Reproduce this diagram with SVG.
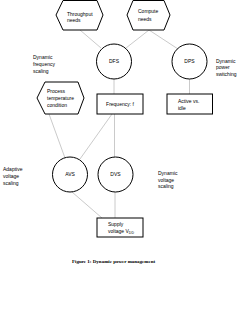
<svg xmlns="http://www.w3.org/2000/svg" width="250" height="324" viewBox="0 0 250 324">
<style>
.s{fill:#fff;stroke:#000;stroke-width:1}
.t{font-family:"Liberation Sans",Arial,sans-serif;font-size:5px;fill:#000}
.m{text-anchor:middle}
.c{stroke:#bdbdbd;stroke-width:0.8;fill:none}
.cap{font-family:"Liberation Serif","Times New Roman",serif;font-size:5px;font-weight:bold;fill:#000}
</style>
<rect width="250" height="324" fill="#fff"/>
<g id="connectors">
<line class="c" x1="80" y1="30" x2="101" y2="48"/>
<line class="c" x1="149" y1="30" x2="126" y2="48"/>
<line class="c" x1="149" y1="30" x2="178" y2="49"/>
<line class="c" x1="114" y1="79" x2="114" y2="94"/>
<line class="c" x1="189.5" y1="79" x2="189.5" y2="94"/>
<line class="c" x1="49" y1="114" x2="65" y2="158"/>
<line class="c" x1="112" y1="114" x2="80" y2="159"/>
<line class="c" x1="114.5" y1="114" x2="114.5" y2="157"/>
<line class="c" x1="72" y1="192" x2="102" y2="218"/>
<line class="c" x1="115" y1="192" x2="115" y2="218"/>
</g>
<g id="throughput">
<polygon class="s" points="56,15 63,0.5 97,0.5 103,15 97,30 63,30"/>
<text class="t" x="67" y="15.5">Throughput</text>
<text class="t" x="67" y="22">needs</text>
</g>
<g id="compute">
<polygon class="s" points="127,15 133,0.5 164,0.5 170,15 164,30 133,30"/>
<text class="t" x="138" y="13">Compute</text>
<text class="t" x="138" y="20.5">needs</text>
</g>
<g id="dfs">
<circle class="s" cx="114" cy="61.5" r="17.5"/>
<text class="t m" x="114" y="63.2">DFS</text>
</g>
<g id="dps">
<circle class="s" cx="189.5" cy="61.5" r="17.5"/>
<text class="t m" x="189.5" y="63.2">DPS</text>
</g>
<g id="label-dfs">
<text class="t" x="33" y="59">Dynamic</text>
<text class="t" x="33" y="65.7">frequency</text>
<text class="t" x="33" y="72.5">scaling</text>
</g>
<g id="label-dps">
<text class="t" x="216" y="62.7">Dynamic</text>
<text class="t" x="216" y="69.3">power</text>
<text class="t" x="216" y="76">switching</text>
</g>
<g id="process">
<polygon class="s" points="37,98 45,82 78,82 84,98 78,114 45,114"/>
<text class="t" x="47" y="93">Process</text>
<text class="t" x="47" y="100">temperature</text>
<text class="t" x="47" y="106.7">condition</text>
</g>
<g id="frequency">
<rect class="s" x="97" y="94" width="46" height="20"/>
<text class="t m" x="120" y="105.7">Frequency: f</text>
</g>
<g id="active">
<rect class="s" x="167" y="94" width="45.5" height="20"/>
<text class="t" x="178" y="103.2">Active vs.</text>
<text class="t" x="178" y="110.2">idle</text>
</g>
<g id="avs">
<circle class="s" cx="70" cy="174.5" r="17.5"/>
<text class="t m" x="70" y="176.2">AVS</text>
</g>
<g id="dvs">
<circle class="s" cx="115.5" cy="174.5" r="17.5"/>
<text class="t m" x="115.5" y="176.2">DVS</text>
</g>
<g id="label-avs">
<text class="t" x="3" y="171">Adaptive</text>
<text class="t" x="3" y="177.7">voltage</text>
<text class="t" x="3" y="184.5">scaling</text>
</g>
<g id="label-dvs">
<text class="t" x="158" y="174.7">Dynamic</text>
<text class="t" x="158" y="181.5">voltage</text>
<text class="t" x="158" y="188.2">scaling</text>
</g>
<g id="supply">
<rect class="s" x="97" y="218" width="46" height="19"/>
<text class="t" x="108" y="225.7">Supply</text>
<text class="t" x="108" y="232.5">voltage V<tspan font-size="3.5" dy="1.2">DD</tspan></text>
</g>
<text class="cap" x="72" y="262.5">Figure 1: Dynamic power management</text>
</svg>
